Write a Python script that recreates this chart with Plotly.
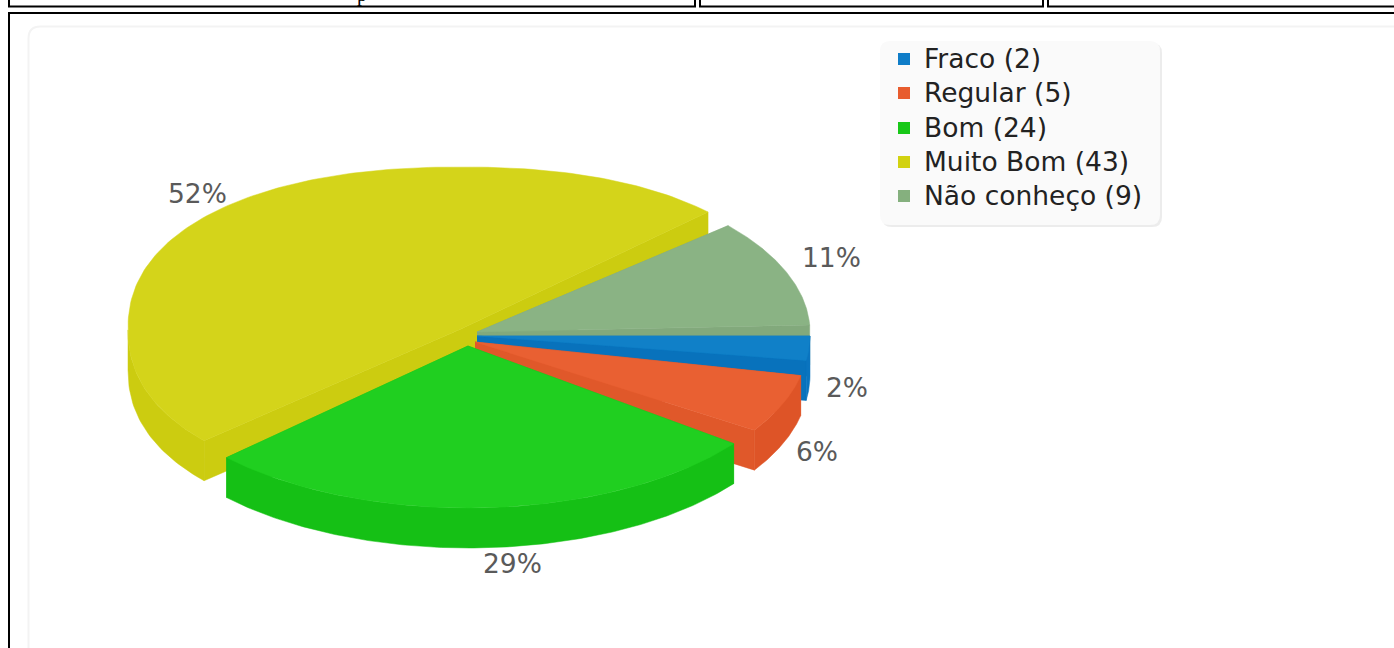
import numpy as np
import plotly.graph_objects as go

# ---- data
categories = ["Fraco", "Regular", "Bom", "Muito Bom", "Não conheço"]
values = [2, 5, 24, 43, 9]

# ---- styles
top_colors = ["#1080c8", "#e96032", "#20cf20", "#d4d41a", "#8ab384"]
arc_colors = ["#0a74bf", "#de5427", "#15c015", "#cccc10", "#82a97c"]
face_colors = ["#0872bc", "#e0582a", "#17c417", "#cccc10", "#82a97c"]
legend_colors = ["#0f7dc8", "#e85c2e", "#18c818", "#d2d210", "#85b07e"]

# slice placement: exploded centre in pixels, angular trim of the projected cut
centres = [(477, 336), (475, 342), (468, 346), (461, 329), (477, 332)]
start_trim = [0, 3.3, 6.7, 4.1, -2.0]
end_trim = [0, 2.6, 2.0, -5.1, -2.5]
shape_power = [1, 1, 1, 0.9, 1]
draw_order = [3, 4, 0, 1, 2]
label_pos = [(847, 387), (817, 451), (512, 563), (197, 193), (831, 257)]
RX, RY, DEPTH = 333, 162, 40
legend_rows = [59, 93, 128, 162, 196]

total = sum(values)
edges = np.concatenate([[0], np.cumsum(values)]) / total * 360.0

fig = go.Figure()


def poly(xs, ys, color):
    fig.add_trace(go.Scatter(x=list(xs), y=list(ys), mode="lines", fill="toself",
                             fillcolor=color, line=dict(color=color, width=0.5),
                             hoverinfo="skip", showlegend=False))


for i in draw_order:
    cx, cy = centres[i]
    a0 = edges[i] + start_trim[i]
    a1 = edges[i + 1] + end_trim[i]
    t = np.radians(np.linspace(a0, a1, 160))
    p = shape_power[i]
    ax = cx + RX * np.sign(np.cos(t)) * np.abs(np.cos(t)) ** p
    ay = cy + RY * np.sign(np.sin(t)) * np.abs(np.sin(t)) ** p
    # cut faces
    for k in (0, -1):
        poly([cx, ax[k], ax[k], cx], [cy, ay[k], ay[k] + DEPTH, cy + DEPTH], face_colors[i])
    # outer rim (front half only)
    front = np.sin(t) >= 0
    if front.any():
        fx, fy = ax[front], ay[front]
        poly(np.concatenate([fx, fx[::-1]]), np.concatenate([fy, fy[::-1] + DEPTH]), arc_colors[i])
    # top surface
    poly(np.concatenate([[cx], ax, [cx]]), np.concatenate([[cy], ay, [cy]]), top_colors[i])

# legend markers
fig.add_trace(go.Scatter(x=[904] * len(categories), y=legend_rows, mode="markers",
                         marker=dict(symbol="square", size=12, color=legend_colors, line=dict(width=0)),
                         hoverinfo="skip", showlegend=False))

annotations = []
for i, name in enumerate(categories):
    annotations.append(dict(x=922, y=legend_rows[i] - 1, xref="x", yref="y", xanchor="left", yanchor="middle",
                            text=f"{name} ({values[i]})", showarrow=False,
                            font=dict(family="DejaVu Sans", size=26.5, color="#222222")))
    annotations.append(dict(x=label_pos[i][0], y=label_pos[i][1], xref="x", yref="y",
                            xanchor="center", yanchor="middle",
                            text=f"{round(values[i] / total * 100)}%", showarrow=False,
                            font=dict(family="DejaVu Sans", size=26.5, color="#5a5a5a")))
annotations.append(dict(x=362, y=1, xref="x", yref="paper", yshift=6, xanchor="center", yanchor="middle", text="p",
                        showarrow=False, font=dict(family="Liberation Serif", size=20, color="#000000")))


def rrect(x0, y0, x1, y1, r):
    return (f"M{x0+r},{y0} L{x1-r},{y0} Q{x1},{y0} {x1},{y0+r} L{x1},{y1-r} Q{x1},{y1} {x1-r},{y1} "
            f"L{x0+r},{y1} Q{x0},{y1} {x0},{y1-r} L{x0},{y0+r} Q{x0},{y0} {x0+r},{y0} Z")


shapes = [
    dict(type="path", path=rrect(28.5, 26.5, 1420, 680, 12), line=dict(color="#f3f3f3", width=2),
         fillcolor="white", layer="below"),
    dict(type="path", path=rrect(882, 43, 1162, 227, 10), line=dict(width=0), fillcolor="#ececec", layer="below"),
    dict(type="path", path=rrect(880, 41, 1160, 225, 10), line=dict(width=0), fillcolor="#fafafa", layer="below"),
    dict(type="rect", x0=9, y0=-6, x1=695, y1=6.5, line=dict(color="black", width=2), layer="below"),
    dict(type="rect", x0=700, y0=-6, x1=1043, y1=6.5, line=dict(color="black", width=2), layer="below"),
    dict(type="rect", x0=1048, y0=-6, x1=1420, y1=6.5, line=dict(color="black", width=2), layer="below"),
    dict(type="rect", x0=9, y0=13, x1=1420, y1=680, line=dict(color="black", width=2), layer="below"),
]

fig.update_layout(
    width=1394, height=648, margin=dict(l=0, r=0, t=0, b=0),
    paper_bgcolor="white", plot_bgcolor="white", showlegend=False,
    xaxis=dict(range=[0, 1394], visible=False, fixedrange=True),
    yaxis=dict(range=[648, 0], visible=False, fixedrange=True),
    annotations=annotations, shapes=shapes,
)
fig.write_html("out.html", config={"displayModeBar": False},
               post_script="document.body.style.margin='0';document.body.style.overflow='hidden';")
